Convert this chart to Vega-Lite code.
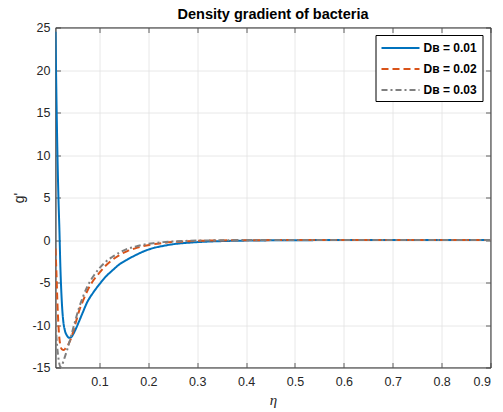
{
  "$schema": "https://vega.github.io/schema/vega-lite/v6.json",
  "width": 435,
  "height": 340,
  "autosize": {"type": "none"},
  "padding": {"left": 55.5, "top": 27.5, "right": 12.5, "bottom": 44.5},
  "background": "white",
  "title": {
    "text": "Density gradient of bacteria",
    "font": "Liberation Sans",
    "fontSize": 14.5,
    "fontWeight": "bold",
    "color": "#000000",
    "anchor": "middle",
    "offset": -1
  },
  "config": {
    "view": {"stroke": "#3a3a3a", "strokeWidth": 0.8},
    "axis": {
      "labelFont": "Liberation Sans",
      "labelFontSize": 12.5,
      "labelColor": "#262626",
      "domainColor": "#3a3a3a",
      "domainWidth": 0.8,
      "tickColor": "#3a3a3a",
      "tickWidth": 0.8,
      "gridColor": "#e2e2e2",
      "gridWidth": 0.8
    },
    "legend": {
      "orient": "none",
      "legendX": 320,
      "legendY": 7.5,
      "strokeColor": "#000000",
      "fillColor": "#ffffff",
      "padding": 5,
      "labelFont": "Liberation Sans",
      "labelFontWeight": "bold",
      "labelFontSize": 12,
      "labelColor": "#000000",
      "symbolType": "M-2.714,0H2.714",
      "symbolStrokeWidth": 2,
      "symbolSize": 196,
      "symbolOffset": 12,
      "labelOffset": 15,
      "rowPadding": 7
    }
  },
  "data": {
    "values": [
      {"eta": 0.01, "g": 24.5, "series": "Dʙ = 0.01"},
      {"eta": 0.012, "g": 16.5, "series": "Dʙ = 0.01"},
      {"eta": 0.014, "g": 10.0, "series": "Dʙ = 0.01"},
      {"eta": 0.016, "g": 5.0, "series": "Dʙ = 0.01"},
      {"eta": 0.018, "g": 1.2, "series": "Dʙ = 0.01"},
      {"eta": 0.02, "g": -3.2, "series": "Dʙ = 0.01"},
      {"eta": 0.022, "g": -6.2, "series": "Dʙ = 0.01"},
      {"eta": 0.024, "g": -8.3, "series": "Dʙ = 0.01"},
      {"eta": 0.026, "g": -9.6, "series": "Dʙ = 0.01"},
      {"eta": 0.029, "g": -10.6, "series": "Dʙ = 0.01"},
      {"eta": 0.033, "g": -11.2, "series": "Dʙ = 0.01"},
      {"eta": 0.038, "g": -11.5, "series": "Dʙ = 0.01"},
      {"eta": 0.042, "g": -11.45, "series": "Dʙ = 0.01"},
      {"eta": 0.047, "g": -11.0, "series": "Dʙ = 0.01"},
      {"eta": 0.052, "g": -10.4, "series": "Dʙ = 0.01"},
      {"eta": 0.058, "g": -9.6, "series": "Dʙ = 0.01"},
      {"eta": 0.066, "g": -8.5, "series": "Dʙ = 0.01"},
      {"eta": 0.075, "g": -7.3, "series": "Dʙ = 0.01"},
      {"eta": 0.087, "g": -6.2, "series": "Dʙ = 0.01"},
      {"eta": 0.1, "g": -5.2, "series": "Dʙ = 0.01"},
      {"eta": 0.113, "g": -4.3, "series": "Dʙ = 0.01"},
      {"eta": 0.126, "g": -3.6, "series": "Dʙ = 0.01"},
      {"eta": 0.14, "g": -2.9, "series": "Dʙ = 0.01"},
      {"eta": 0.157, "g": -2.3, "series": "Dʙ = 0.01"},
      {"eta": 0.175, "g": -1.75, "series": "Dʙ = 0.01"},
      {"eta": 0.19, "g": -1.35, "series": "Dʙ = 0.01"},
      {"eta": 0.21, "g": -0.95, "series": "Dʙ = 0.01"},
      {"eta": 0.23, "g": -0.7, "series": "Dʙ = 0.01"},
      {"eta": 0.25, "g": -0.5, "series": "Dʙ = 0.01"},
      {"eta": 0.28, "g": -0.33, "series": "Dʙ = 0.01"},
      {"eta": 0.31, "g": -0.22, "series": "Dʙ = 0.01"},
      {"eta": 0.35, "g": -0.13, "series": "Dʙ = 0.01"},
      {"eta": 0.4, "g": -0.07, "series": "Dʙ = 0.01"},
      {"eta": 0.45, "g": -0.04, "series": "Dʙ = 0.01"},
      {"eta": 0.5, "g": -0.02, "series": "Dʙ = 0.01"},
      {"eta": 0.6, "g": -0.01, "series": "Dʙ = 0.01"},
      {"eta": 0.7, "g": 0.0, "series": "Dʙ = 0.01"},
      {"eta": 0.9, "g": 0.0, "series": "Dʙ = 0.01"},

      {"eta": 0.01, "g": -1.0, "series": "Dʙ = 0.02"},
      {"eta": 0.012, "g": -4.0, "series": "Dʙ = 0.02"},
      {"eta": 0.014, "g": -7.5, "series": "Dʙ = 0.02"},
      {"eta": 0.016, "g": -10.0, "series": "Dʙ = 0.02"},
      {"eta": 0.018, "g": -11.6, "series": "Dʙ = 0.02"},
      {"eta": 0.02, "g": -12.4, "series": "Dʙ = 0.02"},
      {"eta": 0.023, "g": -12.85, "series": "Dʙ = 0.02"},
      {"eta": 0.027, "g": -12.95, "series": "Dʙ = 0.02"},
      {"eta": 0.031, "g": -12.7, "series": "Dʙ = 0.02"},
      {"eta": 0.036, "g": -12.3, "series": "Dʙ = 0.02"},
      {"eta": 0.041, "g": -11.7, "series": "Dʙ = 0.02"},
      {"eta": 0.047, "g": -10.6, "series": "Dʙ = 0.02"},
      {"eta": 0.052, "g": -9.6, "series": "Dʙ = 0.02"},
      {"eta": 0.058, "g": -8.4, "series": "Dʙ = 0.02"},
      {"eta": 0.066, "g": -7.2, "series": "Dʙ = 0.02"},
      {"eta": 0.075, "g": -6.0, "series": "Dʙ = 0.02"},
      {"eta": 0.087, "g": -4.8, "series": "Dʙ = 0.02"},
      {"eta": 0.1, "g": -3.85, "series": "Dʙ = 0.02"},
      {"eta": 0.113, "g": -3.0, "series": "Dʙ = 0.02"},
      {"eta": 0.126, "g": -2.35, "series": "Dʙ = 0.02"},
      {"eta": 0.14, "g": -1.8, "series": "Dʙ = 0.02"},
      {"eta": 0.157, "g": -1.3, "series": "Dʙ = 0.02"},
      {"eta": 0.175, "g": -0.95, "series": "Dʙ = 0.02"},
      {"eta": 0.19, "g": -0.7, "series": "Dʙ = 0.02"},
      {"eta": 0.21, "g": -0.5, "series": "Dʙ = 0.02"},
      {"eta": 0.23, "g": -0.35, "series": "Dʙ = 0.02"},
      {"eta": 0.26, "g": -0.2, "series": "Dʙ = 0.02"},
      {"eta": 0.3, "g": -0.1, "series": "Dʙ = 0.02"},
      {"eta": 0.35, "g": -0.05, "series": "Dʙ = 0.02"},
      {"eta": 0.4, "g": -0.02, "series": "Dʙ = 0.02"},
      {"eta": 0.5, "g": -0.01, "series": "Dʙ = 0.02"},
      {"eta": 0.6, "g": 0.0, "series": "Dʙ = 0.02"},
      {"eta": 0.9, "g": 0.0, "series": "Dʙ = 0.02"},

      {"eta": 0.01, "g": -9.5, "series": "Dʙ = 0.03"},
      {"eta": 0.012, "g": -11.5, "series": "Dʙ = 0.03"},
      {"eta": 0.014, "g": -12.9, "series": "Dʙ = 0.03"},
      {"eta": 0.016, "g": -13.9, "series": "Dʙ = 0.03"},
      {"eta": 0.018, "g": -14.6, "series": "Dʙ = 0.03"},
      {"eta": 0.0205, "g": -14.95, "series": "Dʙ = 0.03"},
      {"eta": 0.023, "g": -14.8, "series": "Dʙ = 0.03"},
      {"eta": 0.026, "g": -14.3, "series": "Dʙ = 0.03"},
      {"eta": 0.03, "g": -13.6, "series": "Dʙ = 0.03"},
      {"eta": 0.034, "g": -12.9, "series": "Dʙ = 0.03"},
      {"eta": 0.04, "g": -11.7, "series": "Dʙ = 0.03"},
      {"eta": 0.048, "g": -10.0, "series": "Dʙ = 0.03"},
      {"eta": 0.058, "g": -8.0, "series": "Dʙ = 0.03"},
      {"eta": 0.066, "g": -6.7, "series": "Dʙ = 0.03"},
      {"eta": 0.075, "g": -5.5, "series": "Dʙ = 0.03"},
      {"eta": 0.087, "g": -4.3, "series": "Dʙ = 0.03"},
      {"eta": 0.1, "g": -3.3, "series": "Dʙ = 0.03"},
      {"eta": 0.113, "g": -2.55, "series": "Dʙ = 0.03"},
      {"eta": 0.126, "g": -2.0, "series": "Dʙ = 0.03"},
      {"eta": 0.14, "g": -1.5, "series": "Dʙ = 0.03"},
      {"eta": 0.157, "g": -1.05, "series": "Dʙ = 0.03"},
      {"eta": 0.175, "g": -0.75, "series": "Dʙ = 0.03"},
      {"eta": 0.19, "g": -0.55, "series": "Dʙ = 0.03"},
      {"eta": 0.21, "g": -0.37, "series": "Dʙ = 0.03"},
      {"eta": 0.23, "g": -0.25, "series": "Dʙ = 0.03"},
      {"eta": 0.26, "g": -0.14, "series": "Dʙ = 0.03"},
      {"eta": 0.3, "g": -0.07, "series": "Dʙ = 0.03"},
      {"eta": 0.35, "g": -0.03, "series": "Dʙ = 0.03"},
      {"eta": 0.4, "g": -0.01, "series": "Dʙ = 0.03"},
      {"eta": 0.5, "g": 0.0, "series": "Dʙ = 0.03"},
      {"eta": 0.9, "g": 0.0, "series": "Dʙ = 0.03"}
    ]
  },
  "resolve": {"axis": {"x": "independent", "y": "independent"}},
  "layer": [
    {
      "mark": {"type": "line", "strokeWidth": 2, "interpolate": "monotone", "clip": true},
      "encoding": {
        "x": {
          "field": "eta",
          "type": "quantitative",
          "scale": {"domain": [0.01, 0.9], "nice": false, "zero": false},
          "axis": {
            "values": [0.1, 0.2, 0.3, 0.4, 0.5, 0.6, 0.7, 0.8, 0.9],
            "format": ".1f",
            "tickSize": -5,
            "labelPadding": 13,
            "title": "η",
            "titleFont": "Liberation Serif",
            "titleFontStyle": "italic",
            "titleFontWeight": "normal",
            "titleFontSize": 15,
            "titleColor": "#262626",
            "titlePadding": 4
          }
        },
        "y": {
          "field": "g",
          "type": "quantitative",
          "scale": {"domain": [-15, 25], "nice": false, "zero": false},
          "axis": {
            "values": [-15, -10, -5, 0, 5, 10, 15, 20, 25],
            "labelExpr": "datum.value < 0 ? '-' + abs(datum.value) : '' + datum.value",
            "tickSize": -5,
            "labelPadding": 10.5,
            "title": "g'",
            "titleFont": "Liberation Sans",
            "titleFontWeight": "normal",
            "titleFontSize": 14,
            "titleColor": "#262626",
            "titlePadding": 5
          }
        },
        "color": {
          "field": "series",
          "type": "nominal",
          "scale": {"domain": ["Dʙ = 0.01", "Dʙ = 0.02", "Dʙ = 0.03"], "range": ["#0072BD", "#D95319", "#7F7F7F"]},
          "legend": {"title": null}
        },
        "strokeDash": {
          "field": "series",
          "type": "nominal",
          "scale": {"domain": ["Dʙ = 0.01", "Dʙ = 0.02", "Dʙ = 0.03"], "range": [[1, 0], [7, 4], [6, 3, 2, 3]]},
          "legend": {"title": null}
        }
      }
    },
    {
      "mark": {"type": "line", "strokeOpacity": 0, "clip": true},
      "encoding": {
        "x": {
          "field": "eta",
          "type": "quantitative",
          "axis": {
            "orient": "top",
            "values": [0.1, 0.2, 0.3, 0.4, 0.5, 0.6, 0.7, 0.8, 0.9],
            "labels": false,
            "grid": false,
            "tickSize": -5,
            "title": null
          }
        },
        "y": {
          "field": "g",
          "type": "quantitative",
          "axis": {
            "orient": "right",
            "values": [-15, -10, -5, 0, 5, 10, 15, 20, 25],
            "labels": false,
            "grid": false,
            "tickSize": -5,
            "title": null
          }
        },
        "detail": {"field": "series", "type": "nominal"}
      }
    }
  ]
}
